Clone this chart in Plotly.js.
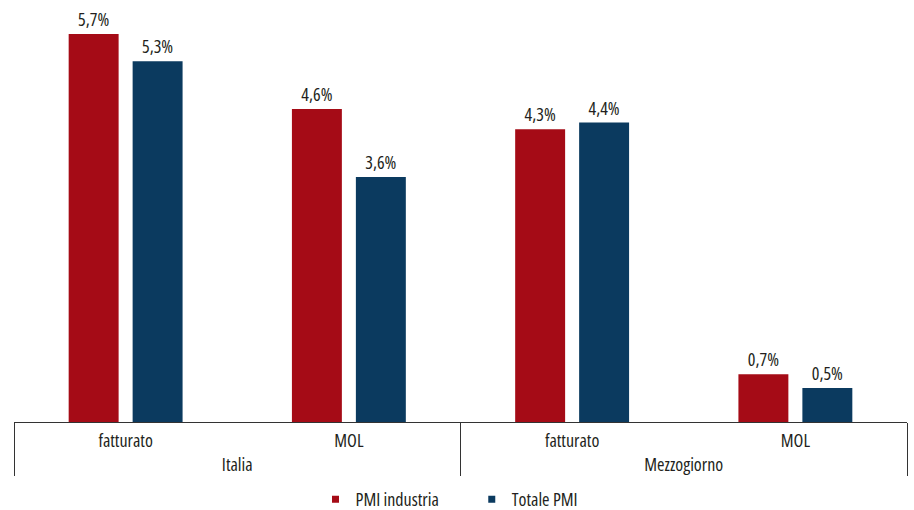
<!DOCTYPE html>
<html>
<head>
<meta charset="utf-8">
<script src="https://cdn.plot.ly/plotly-3.0.1.min.js"></script>
<style>
html,body{margin:0;padding:0;background:#fff;}
#chart{width:914px;height:510px;}
#chart text{font-stretch:75% !important;}
</style>
</head>
<body>
<div id="chart"></div>
<script>
const outerCats = ["Italia", "Italia", "Mezzogiorno", "Mezzogiorno"];
const innerCats = ["fatturato", "MOL", "fatturato", "MOL"];
const seriesNames = ["PMI industria", "Totale PMI"];
const pmiIndustria = [5.7, 4.6, 4.3, 0.7];
const totalePMI = [5.3, 3.6, 4.4, 0.5];

const FONT = "'Open Sans', 'DejaVu Sans Condensed', sans-serif";
const colors = ["#a50b16", "#0b3a5f"];

const traces = [pmiIndustria, totalePMI].map((vals, i) => ({
  type: "bar",
  name: seriesNames[i],
  x: [outerCats, innerCats],
  y: vals,
  marker: {color: colors[i]},
  texttemplate: "%{y:.1f}%",
  textposition: "outside",
  cliponaxis: false,
  textfont: {family: FONT, size: 18, color: "#231f20"},
  hoverinfo: "none",
  showlegend: false
}));

// legend entries with small square markers
seriesNames.forEach((n, i) => {
  traces.push({
    type: "scatter", mode: "markers", name: n,
    x: [null], y: [null],
    marker: {symbol: "square", size: 7, color: colors[i]},
    showlegend: true, hoverinfo: "none"
  });
});

const layout = {
  width: 914, height: 510,
  margin: {l: 14, r: 7, t: 0, b: 88, autoexpand: false},
  paper_bgcolor: "#fff", plot_bgcolor: "#fff",
  separators: ",.",
  font: {family: FONT, size: 18, color: "#231f20"},
  barmode: "group",
  bargap: 0.427,
  bargroupgap: 0.219,
  showlegend: true,
  legend: {orientation: "h", x: 0.5, xanchor: "center", y: -0.14, yanchor: "top",
           font: {family: FONT, size: 18, color: "#231f20"}, itemwidth: 30},
  xaxis: {
    type: "multicategory", automargin: false,
    showline: true, linecolor: "#333", linewidth: 1,
    showdividers: true, dividercolor: "#333", dividerwidth: 1,
    ticks: "", ticklabelstandoff: 2,
    tickfont: {family: FONT, size: 18, color: "#231f20"},
    showgrid: false, zeroline: false, fixedrange: true
  },
  yaxis: {
    range: [0, 6.2], visible: false, showgrid: false, zeroline: false, fixedrange: true, automargin: false
  }
};

Plotly.newPlot("chart", traces, layout, {staticPlot: true, displayModeBar: false});
</script>
</body>
</html>
